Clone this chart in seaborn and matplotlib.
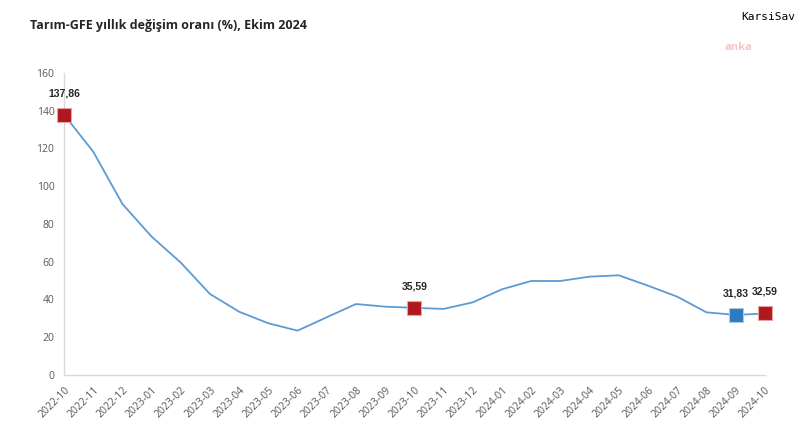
import numpy as np
import pandas as pd
import seaborn as sns
import matplotlib.pyplot as plt

# monthly annual change of agricultural PPI (%)
months = ["2022-10", "2022-11", "2022-12", "2023-01", "2023-02", "2023-03", "2023-04",
          "2023-05", "2023-06", "2023-07", "2023-08", "2023-09", "2023-10", "2023-11",
          "2023-12", "2024-01", "2024-02", "2024-03", "2024-04", "2024-05", "2024-06",
          "2024-07", "2024-08", "2024-09", "2024-10"]
values = [137.86, 118.3, 90.6, 73.3, 59.5, 42.9, 33.5, 27.4, 23.5, 30.6, 37.6, 36.2,
          35.59, 35.0, 38.5, 45.4, 49.8, 49.8, 52.1, 52.8, 47.3, 41.5, 33.2, 31.83, 32.59]
red_months = ["2022-10", "2023-10", "2024-10"]
blue_months = ["2024-09"]
y_ticks = [0, 20, 40, 60, 80, 100, 120, 140, 160]

df = pd.DataFrame({"month": months, "value": values})
df["pos"] = np.arange(len(df))

sns.set_style("white")
plt.rcParams["font.family"] = ["Open Sans", "DejaVu Sans"]

fig = plt.figure(figsize=(8, 4.47), dpi=100)
ax = fig.add_axes([0.08, 0.161, 0.876, 0.676])

sns.lineplot(data=df, x="pos", y="value", color="#5B9BD5", linewidth=1.3, ax=ax)

red = df[df["month"].isin(red_months)]
blue = df[df["month"].isin(blue_months)]
sns.scatterplot(data=red, x="pos", y="value", marker="s", s=110, color="#B0181F",
                edgecolor="#E8A0A0", linewidth=0.8, ax=ax, zorder=5, clip_on=False)
sns.scatterplot(data=blue, x="pos", y="value", marker="s", s=110, color="#2E7BBE",
                edgecolor="#A8C8E8", linewidth=0.8, ax=ax, zorder=5, clip_on=False)

for _, r in pd.concat([red, blue]).iterrows():
    ax.annotate(f"{r['value']:.2f}".replace(".", ","), (r["pos"], r["value"]),
                xytext=(0, 12), textcoords="offset points", ha="center", va="bottom",
                fontsize=7.5, fontweight="bold", color="#262626",
                family=["Liberation Sans", "DejaVu Sans"])

ax.set_xlim(0, len(df) - 1)
ax.set_ylim(0, 160)
ax.set_yticks(y_ticks)
ax.set_yticklabels([str(t) for t in y_ticks], fontsize=7.5, color="#595959")
ax.set_xticks(df["pos"])
ax.set_xticklabels(df["month"], rotation=45, ha="right", rotation_mode="anchor",
                   fontsize=7.5, color="#595959")
ax.tick_params(axis="both", length=0, pad=7)
ax.set_xlabel("")
ax.set_ylabel("")
for side in ["top", "right"]:
    ax.spines[side].set_visible(False)
for side in ["left", "bottom"]:
    ax.spines[side].set_color("#D9D9D9")
    ax.spines[side].set_linewidth(1)

fig.text(0.038, 0.943, "Tarım-GFE yıllık değişim oranı (%), Ekim 2024", fontsize=9,
         fontweight="bold", color="#262626", va="center")
fig.text(0.926, 0.963, "KarsiSav", fontsize=8, family="DejaVu Sans Mono", color="black",
         va="center")
fig.text(0.906, 0.894, "anka", fontsize=8, fontweight="bold", color="#F5C6C6",
         va="center")

fig.savefig("out.png", dpi=100)
